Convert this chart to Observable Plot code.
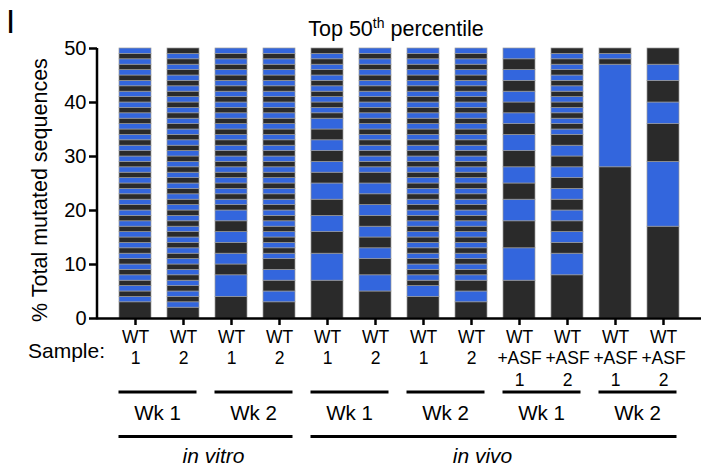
<!DOCTYPE html>
<html><head><meta charset="utf-8">
<script src="https://cdn.jsdelivr.net/npm/d3@7"></script>
<script src="https://cdn.jsdelivr.net/npm/@observablehq/plot@0.6"></script>
<style>body{margin:0;background:#fff;}</style>
</head><body><div id="chart"></div>
<script>
// Samples (x categories) and their tick labels
const sampleIds = ["vitro-wk1-WT1","vitro-wk1-WT2","vitro-wk2-WT1","vitro-wk2-WT2",
  "vivo-wk1-WT1","vivo-wk1-WT2","vivo-wk2-WT1","vivo-wk2-WT2",
  "vivo-wk1-ASF1","vivo-wk1-ASF2","vivo-wk2-ASF1","vivo-wk2-ASF2"];
const sampleLabels = ["WT\n1","WT\n2","WT\n1","WT\n2","WT\n1","WT\n2","WT\n1","WT\n2",
  "WT\n+ASF\n1","WT\n+ASF\n2","WT\n+ASF\n1","WT\n+ASF\n2"];
const yTicks = [0,10,20,30,40,50];
const weekLabels = ["Wk 1","Wk 2","Wk 1","Wk 2","Wk 1","Wk 2"];
const weekFirstIndex = [0,2,4,6,8,10];
const conditionLabels = ["in vitro","in vivo"];
const conditionWeeks = [[0,1],[2,5]];

// Segment sizes (% of total mutated sequences), stacked from the bottom up
const bar01 = [3,
  1,1,1,1,1,1,1,1,1,1, 1,1,1,1,1,1,1,1,1,1, 1,1,1,1,1,1,1,1,1,1, 1,1,1,1,1,1,1,1,1,1,
  1,1,1,1,1,1,1];
const bar02 = [2,
  1,1,1,1,1,1,1,1,1,1, 1,1,1,1,1,1,1,1,1,1, 1,1,1,1,1,1,1,1,1,1, 1,1,1,1,1,1,1,1,1,1,
  1,1,1,1,1,1,1,1];
const bar03 = [4,4,2,2,2,2,2,2,
  1,1,1,1,1,1,1,1,1,1, 1,1,1,1,1,1,1,1,1,1, 1,1,1,1,1,1,1,1,1,1];
const bar04 = [3,2,2,2,2,
  1,1,1,1,1,1,1,1,1,1, 1,1,1,1,1,1,1,1,1,1, 1,1,1,1,1,1,1,1,1,1,
  1,1,1,1,1,1,1,1,1];
const bar05 = [7,5,4,3,3,3,2,2,2,2,2,2,
  1,1,1,1,1,1,1,1,1,1, 1,1,1];
const bar06 = [5,3,3,2,2,2,2,2,2,2,2,
  1,1,1,1,1,1,1,1,1,1, 1,1,1,1,1,1,1,1,1,1, 1,1,1];
const bar07 = [4,2,
  1,1,1,1,1,1,1,1,1,1, 1,1,1,1,1,1,1,1,1,1, 1,1,1,1,1,1,1,1,1,1, 1,1,1,1,1,1,1,1,1,1,
  1,1,1,1];
const bar08 = [3,2,2,
  1,1,1,1,1,1,1,1,1,1, 1,1,1,1,1,1,1,1,1,1, 1,1,1,1,1,1,1,1,1,1, 1,1,1,1,1,1,1,1,1,1,
  1,1,1];
const bar09 = [7,6,5,4,3,3,3,3,2,2,2,2,2,2,2,2];
const bar10 = [8,4,2,2,2,2,2,2,2,2,2,2,2,
  1,1,1,1,1,1,1,1,1,1, 1,1,1,1,1,1];
const bar11 = [28,19,1,1,1];
const bar12 = [17,12,7,4,4,3,3];
const segments = [bar01,bar02,bar03,bar04,bar05,bar06,bar07,bar08,bar09,bar10,bar11,bar12];

const table = segments.flatMap((segs, i) => segs.map((v, j) => ({
  sample: sampleIds[i], value: v, order: j, tone: j % 2 === 0 ? "dark" : "blue"
})));

const FONT = "'Liberation Sans', Arial, Helvetica, sans-serif";
const plot = Plot.plot({
  width: 701, height: 467,
  marginLeft: 97, marginRight: 0, marginTop: 48, marginBottom: 149,
  style: {fontFamily: FONT, color: "#000", background: "#fff", overflow: "visible"},
  x: {type: "band", domain: sampleIds, padding: 0.333, label: null},
  y: {domain: [0, 50], label: null},
  color: {domain: ["dark", "blue"], range: ["#2a2a2a", "#3366dd"]},
  marks: [
    Plot.barY(table, {x: "sample", y: "value", fill: "tone", stroke: "#9a9a9a", strokeWidth: 0.7}),
    Plot.axisY({ticks: yTicks, tickSize: 8, tickPadding: 3, fontSize: 20, strokeWidth: 2.5, label: null}),
    Plot.axisX({tickSize: 7, tickPadding: 1.5, fontSize: 17.5, lineHeight: 1.25, strokeWidth: 2.5, label: null,
      tickFormat: d => sampleLabels[sampleIds.indexOf(d)]}),
    Plot.ruleY([0], {strokeWidth: 2.5})
  ]
});
document.getElementById("chart").appendChild(plot);

const svg = d3.select(plot);
const xs = plot.scale("x"), ys = plot.scale("y");
const bw = xs.bandwidth;
const g = svg.append("g").attr("font-family", FONT).attr("fill", "#000").attr("text-anchor", "start");

// y axis line
g.append("line").attr("x1", 97).attr("x2", 97)
  .attr("y1", ys.apply(0) + 1.25).attr("y2", ys.apply(50))
  .attr("stroke", "#000").attr("stroke-width", 2.5);

// y axis title
g.append("text").attr("transform", "translate(46.5,190) rotate(-90)")
  .attr("text-anchor", "middle").attr("font-size", 21.5).text("% Total mutated sequences");

// Title
const title = g.append("text").attr("x", 396).attr("y", 36).attr("text-anchor", "middle").attr("font-size", 21.5);
title.append("tspan").text("Top 50");
title.append("tspan").attr("font-size", 14).attr("dy", -8).text("th");
title.append("tspan").attr("dy", 8).text(" percentile");

// Panel letter
g.append("text").attr("x", 6).attr("y", 33).attr("text-anchor", "start").attr("font-size", 33).text("I");

// Sample: label
g.append("text").attr("x", 28).attr("y", 358).attr("text-anchor", "start").attr("font-size", 21).text("Sample:");

// Week groups
const weekExtents = weekFirstIndex.map(i => {
  const a = xs.apply(sampleIds[i]);
  const b = xs.apply(sampleIds[i + 1]) + bw;
  const c = (a + b) / 2 - 1.5;
  return [c - 39, c + 39];
});
weekExtents.forEach(([a, b], k) => {
  g.append("line").attr("x1", a).attr("x2", b).attr("y1", 392).attr("y2", 392)
    .attr("stroke", "#000").attr("stroke-width", 2.8);
  g.append("text").attr("x", (a + b) / 2).attr("y", 420).attr("text-anchor", "middle")
    .attr("font-size", 20.5).text(weekLabels[k]);
});

// Condition groups
const condDx = [8, -11];
conditionWeeks.forEach(([w0, w1], k) => {
  const a = weekExtents[w0][0], b = weekExtents[w1][1];
  g.append("line").attr("x1", a).attr("x2", b).attr("y1", 436.5).attr("y2", 436.5)
    .attr("stroke", "#000").attr("stroke-width", 2.8);
  g.append("text").attr("x", (a + b) / 2 + condDx[k]).attr("y", 463).attr("text-anchor", "middle")
    .attr("font-size", 21).attr("font-style", "italic").text(conditionLabels[k]);
});
</script>
</body></html>
